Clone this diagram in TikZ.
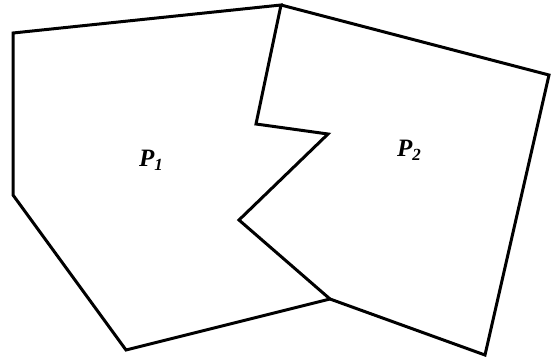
\documentclass[tikz,border=0pt]{standalone}
\usepackage{fontspec}
\setmainfont{Liberation Serif}
\usepackage{tikz}
\usetikzlibrary{positioning}

\tikzset{
    edge/.style={line width=3pt, line join=miter, black},
    plabel/.style={font=\fontsize{25}{28}\selectfont\bfseries\itshape, inner sep=0pt}
}

\begin{document}
\begin{tikzpicture}[x=1pt, y=-1pt]
    \useasboundingbox (0,0) rectangle (551,360);

    % Vertices
    \coordinate (a) at (13,33);
    \coordinate (b) at (281,5);
    \coordinate (c) at (549,75);
    \coordinate (d) at (485,355);
    \coordinate (e) at (330,299);
    \coordinate (f) at (239,220);
    \coordinate (g) at (328,134);
    \coordinate (h) at (256,124);
    \coordinate (i) at (13,195);
    \coordinate (j) at (126,350);

    % Polygon P1
    \draw[edge] (a) -- (b) -- (h) -- (g) -- (f) -- (e) -- (j) -- (i) -- cycle;

    % Polygon P2
    \draw[edge] (b) -- (c) -- (d) -- (e);

    % Labels
    \node[plabel] (p1) at (151,160) {P\raisebox{-0.35ex}{\fontsize{17}{19}\selectfont 1}};
    \node[plabel] (p2) at (409,150) {P\raisebox{-0.35ex}{\fontsize{17}{19}\selectfont 2}};
\end{tikzpicture}
\end{document}
